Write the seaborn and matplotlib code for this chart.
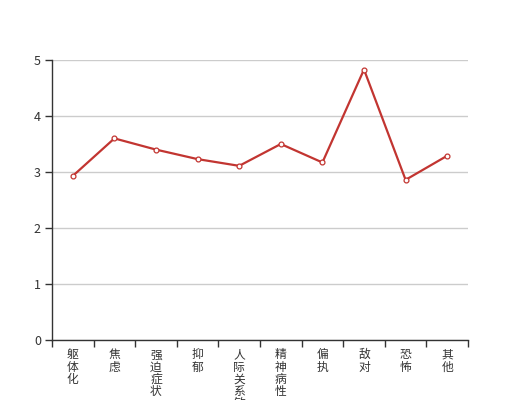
import matplotlib
matplotlib.use("Agg")
import matplotlib.pyplot as plt
import numpy as np
import pandas as pd
import seaborn as sns

categories = ["躯体化", "焦虑", "强迫症状", "抑郁", "人际关系敏感",
              "精神病性", "偏执", "敌对", "恐怖", "其他"]
scores = [2.93, 3.60, 3.40, 3.23, 3.11, 3.50, 3.17, 4.83, 2.86, 3.29]
y_ticks = [0, 1, 2, 3, 4, 5]

df = pd.DataFrame({"category": categories, "score": scores})
df["pos"] = np.arange(len(df))

sns.set_style("white")
plt.rcParams["font.family"] = ["Noto Sans CJK SC", "DejaVu Sans"]

fig = plt.figure(figsize=(5.2, 4), dpi=100)
ax = fig.add_axes([0.1, 0.15, 0.8, 0.70])

line_color = "#c23531"
sns.lineplot(data=df, x="pos", y="score", ax=ax, color=line_color,
             linewidth=1.6, marker="o", markersize=3.5,
             markerfacecolor="white", markeredgecolor=line_color,
             markeredgewidth=0.9, zorder=3)

ax.set_xlim(-0.5, len(categories) - 0.5)
ax.set_ylim(0, 5)
ax.set_yticks(y_ticks)
ax.set_yticklabels([str(t) for t in y_ticks])
ax.yaxis.grid(True, color="#cccccc", linewidth=1)
ax.set_axisbelow(True)

ax.set_xticks(df["pos"])
ax.set_xticklabels(["\n".join(c) for c in categories], va="top",
                   linespacing=0.92)
ax.set_xticks(np.arange(-0.5, len(categories)), minor=True)
ax.tick_params(axis="x", which="major", length=0, pad=6, labelsize=8.5,
               labelcolor="#333333")
ax.tick_params(axis="x", which="minor", length=5, width=1, color="#333333",
               direction="out", bottom=True)
ax.tick_params(axis="y", length=5, width=1, color="#333333", direction="out",
               left=True, pad=3, labelsize=9, labelcolor="#333333")

for side in ["top", "right"]:
    ax.spines[side].set_visible(False)
for side in ["left", "bottom"]:
    ax.spines[side].set_color("#333333")
    ax.spines[side].set_linewidth(1)

ax.set_xlabel("")
ax.set_ylabel("")

fig.savefig("out.png", dpi=100)
